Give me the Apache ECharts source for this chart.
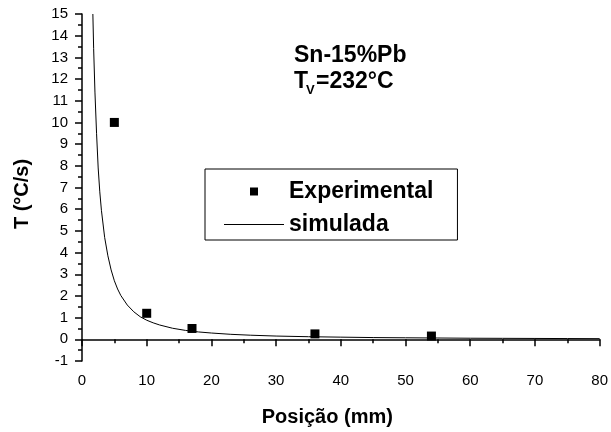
<!DOCTYPE html>
<html>
<head>
<meta charset="utf-8">
<script src="https://cdn.jsdelivr.net/npm/echarts@6/dist/echarts.min.js"></script>
<style>
html,body{margin:0;padding:0;background:#fff;}
#chart{width:611px;height:432px;}
</style>
</head>
<body>
<div id="chart"></div>
<script>
// Experimental points (position mm, cooling rate °C/s)
const expX = [5, 10, 17, 36, 54];
const expY = [10.0, 1.2, 0.5, 0.25, 0.15];
// Simulated curve, values
const simX = [1.68, 1.8, 2, 2.25, 2.5, 2.75, 3, 3.5, 4, 4.5, 5, 5.5, 6, 7, 8, 9, 10, 11, 12, 14, 16, 18, 20, 23, 26, 30, 35, 40, 45, 50, 55, 60, 65, 70, 75, 80];
const simY = [15, 13.4, 11.4, 9.5, 7.9, 6.8, 5.95, 4.7, 3.85, 3.2, 2.7, 2.32, 2.02, 1.58, 1.27, 1.04, 0.88, 0.76, 0.66, 0.51, 0.41, 0.34, 0.29, 0.23, 0.19, 0.15, 0.12, 0.1, 0.08, 0.07, 0.06, 0.05, 0.045, 0.04, 0.035, 0.03];
const xTicks = {min: 0, max: 80, interval: 10};
const yTicks = {min: -1, max: 15, interval: 1};
const title1 = 'Sn-15%Pb';
const xName = 'Posição (mm)';
const yName = 'T (°C/s)';

const FONT = '"Liberation Sans", Arial, Helvetica, sans-serif';
const chart = echarts.init(document.getElementById('chart'), null, {renderer: 'canvas'});

const axisCommon = {
  axisLine: {show: true, lineStyle: {color: '#000', width: 1.5}},
  axisTick: {show: true, inside: false, length: 7, lineStyle: {color: '#000', width: 1.5}},
  minorTick: {show: true, splitNumber: 2, length: 4, lineStyle: {color: '#000', width: 1.5}},
  splitLine: {show: false},
  minorSplitLine: {show: false},
  axisLabel: {color: '#000', fontFamily: FONT, fontSize: 15},
  nameTextStyle: {color: '#000', fontFamily: FONT, fontSize: 20, fontWeight: 'bold'}
};

chart.setOption({
  animation: false,
  backgroundColor: '#fff',
  grid: {left: 82, right: 7, top: 14, bottom: 69, containLabel: false},
  xAxis: Object.assign({}, axisCommon, {
    type: 'value', min: xTicks.min, max: xTicks.max, interval: xTicks.interval,
    name: xName, nameLocation: 'middle', nameGap: 46,
    axisLabel: Object.assign({}, axisCommon.axisLabel, {margin: 12}),
    nameTextStyle: Object.assign({}, axisCommon.nameTextStyle, {padding: [0, 27, 0, 0]})
  }),
  yAxis: Object.assign({}, axisCommon, {
    type: 'value', min: yTicks.min, max: yTicks.max, interval: yTicks.interval,
    name: yName, nameLocation: 'middle', nameGap: 50,
    axisLabel: Object.assign({}, axisCommon.axisLabel, {margin: 14}),
    nameTextStyle: Object.assign({}, axisCommon.nameTextStyle, {padding: [0, 13, 0, 0]})
  }),
  legend: {
    orient: 'vertical',
    left: 205, top: 169,
    padding: [11, 24, 4, 19],
    itemWidth: 60, itemHeight: 8, itemGap: 10,
    symbolKeepAspect: true,
    borderColor: '#000', borderWidth: 1,
    itemStyle: {opacity: 1},
    textStyle: {color: '#000', fontFamily: FONT, fontSize: 23, fontWeight: 'bold'},
    data: [
      {name: 'Experimental', icon: 'path://M0,0H1V1H0Z', itemStyle: {color: '#000', opacity: 1}},
      {name: 'simulada', icon: 'path://M0,0H60V1H0Z', itemStyle: {color: '#000', opacity: 1}}
    ]
  },
  series: [
    {
      name: 'Experimental', type: 'scatter', symbol: 'rect', symbolSize: 9,
      itemStyle: {color: '#000', opacity: 1},
      data: expX.map((x, i) => [x, expY[i]]), z: 3
    },
    {
      name: 'simulada', type: 'line', symbol: 'none', smooth: false,
      lineStyle: {color: '#000', width: 1},
      itemStyle: {color: '#000'},
      data: simX.map((x, i) => [x, simY[i]]), z: 2
    }
  ],
  graphic: [
    {type: 'text', left: 294, top: 44, style: {text: title1, fill: '#000', font: 'bold 23px ' + FONT}},
    {type: 'text', left: 294, top: 70, style: {text: 'T', fill: '#000', font: 'bold 23px ' + FONT}},
    {type: 'text', left: 306, top: 84, style: {text: 'V', fill: '#000', font: 'bold 13px ' + FONT}},
    {type: 'text', left: 316, top: 70, style: {text: '=232°C', fill: '#000', font: 'bold 23px ' + FONT}}
  ]
});
</script>
</body>
</html>
